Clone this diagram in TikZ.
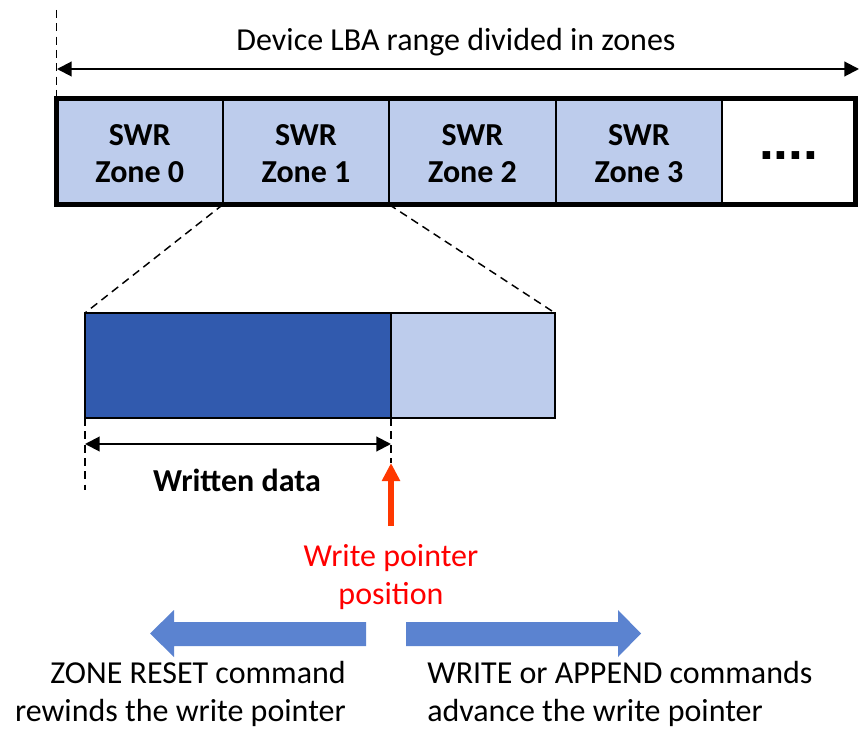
\documentclass[tikz,border=0pt]{standalone}
\usepackage{fontspec}
\setmainfont{Carlito}
\newfontfamily\dotfont{Liberation Sans}
\usetikzlibrary{arrows.meta,fit,calc}
\definecolor{lightzone}{RGB}{189,204,236}
\definecolor{darkzone}{RGB}{49,90,174}
\definecolor{blockarrow}{RGB}{91,131,208}
\definecolor{ptrred}{RGB}{255,56,0}
\begin{document}
\begin{tikzpicture}[x=0.75pt,y=-0.75pt,
  txt/.style={font=\fontsize{24}{28.5}\selectfont, align=center, inner sep=0},
  zcell/.style={draw, line width=1.5pt, fill=lightzone, inner sep=0, outer sep=0},
  zlab/.style={font=\bfseries\fontsize{24}{27.75}\selectfont, align=center, inner sep=0, yshift=-1.5pt},
  part/.style={draw, line width=1.5pt, inner sep=0, outer sep=0},
  dim/.style={line width=1.5pt, {Triangle[length=11pt,width=11pt]}-{Triangle[length=11pt,width=11pt]}},
  guide/.style={dash pattern=on 6pt off 4pt, line width=1.1pt},
  ptr/.style={line width=4.5pt, draw=ptrred, -{Triangle[length=13.5pt,width=13pt]}},
]
\useasboundingbox (0,0) rectangle (859,730);
% top zones
\node[zcell, fit={(56.5,98.5)(223,204.5)}] (z0) {};
\node[zcell, fit={(223,98.5)(389,204.5)}] (z1) {};
\node[zcell, fit={(389,98.5)(556,204.5)}] (z2) {};
\node[zcell, fit={(556,98.5)(722,204.5)}] (z3) {};
\node[zcell, fill=white, fit={(722,98.5)(855.5,204.5)}] (z4) {};
\node[zlab] (l0) at (z0.center) {SWR\\Zone 0};
\node[zlab] (l1) at (z1.center) {SWR\\Zone 1};
\node[zlab] (l2) at (z2.center) {SWR\\Zone 2};
\node[zlab] (l3) at (z3.center) {SWR\\Zone 3};
\node[inner sep=0, font=\dotfont\bfseries\fontsize{40}{40}\selectfont, yshift=-3pt] (l4) at (z4.center) {....};
\node[draw, line width=3.75pt, inner sep=0, outer sep=0, fit=(z0)(z4)] (bar) {};
% range arrow
\coordinate (vt) at (56.5,10);
\draw[guide] (vt) -- (bar.north west);
\coordinate (ra) at (57,69);
\coordinate (rb) at (859,69);
\draw[dim] (ra) -- (rb);
\node[txt] (title) at (456,42) {Device LBA range divided in zones};
% zoom
\node[part, fill=darkzone, fit={(85,313)(391,418)}] (w) {};
\node[part, fill=lightzone, fit={(391,313)(555,418)}] (fr) {};
\draw[guide] (z1.south west) -- (w.north west);
\draw[guide] (z1.south east) -- (fr.north east);
\coordinate (wl) at (85,490);
\coordinate (wp) at (391,463);
\draw[guide] (w.south west) -- (wl);
\draw[guide] (w.south east) -- (wp);
\coordinate (da) at (85,444);
\coordinate (db) at (391,444);
\draw[dim] (da) -- (db);
\node[txt, font=\bfseries\fontsize{24}{28.5}\selectfont] (wd) at (237,480) {Written data};
% write pointer
\node[txt, text=red] (wpt) at (391,577) {Write pointer\\position};
\coordinate (rs) at (391,526);
\draw[ptr] (rs) -- (wp);
% block arrows
\fill[blockarrow] (366,622) -- (174,622) -- (174,610) -- (150,633.5) -- (174,657) -- (174,646) -- (366,646) -- cycle;
\fill[blockarrow] (406,622) -- (618,622) -- (618,610) -- (641,633.5) -- (618,657) -- (618,646) -- (406,646) -- cycle;
\node[txt, align=right, anchor=east] (lt) at (346,694) {ZONE RESET command\\rewinds the write pointer};
\node[txt, align=left, anchor=west] (rt) at (427,694) {WRITE or APPEND commands\\advance the write pointer};
\end{tikzpicture}
\end{document}
